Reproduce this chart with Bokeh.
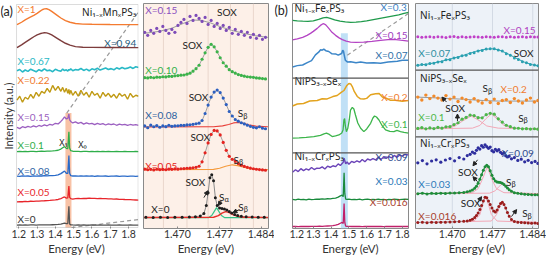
import numpy as np
from bokeh.plotting import figure
from bokeh.layouts import row
from bokeh.models import (Range1d, FixedTicker, NumeralTickFormatter, BoxAnnotation,
                          Span, Arrow, NormalHead)
from bokeh.core.properties import value
from bokeh.embed import file_html
from bokeh.resources import INLINE

FONT = "Lato"
FORMULA_FONT = "Noto Sans"
INK = "#222222"

# ---------------------------------------------------------------- data
# (a) Ni1-xMnxPS3 PL overview (intensity above each trace's baseline, a.u.)
e_mn_broad = [1.19, 1.215, 1.237, 1.26, 1.282, 1.3, 1.315, 1.328, 1.34, 1.352, 1.365,
              1.38, 1.395, 1.41, 1.43, 1.455, 1.48, 1.51, 1.55, 1.6, 1.7, 1.855]
mn_x100 = [0, 2.5, 5.2, 7.5, 9.5, 11.5, 13.5, 15.2, 16.0, 16.2, 15.3, 13.5, 11.5, 9.5,
           6.8, 4.2, 2.5, 1.2, 0.6, 0.4, 0.2, 0.1]
mn_x094 = [0, 2.8, 5.5, 8.3, 11.0, 12.8, 14.0, 14.7, 15.0, 14.9, 14.2, 12.8, 11.2, 9.4,
           7.0, 4.4, 2.5, 1.0, 0.4, 0.2, 0.1, 0.0]

e_mn = [1.19, 1.205, 1.22, 1.235, 1.25, 1.265, 1.28, 1.295, 1.31, 1.325, 1.34, 1.355,
        1.37, 1.385, 1.40, 1.415, 1.43, 1.44, 1.45, 1.46, 1.468, 1.474, 1.478, 1.484,
        1.495, 1.51, 1.525, 1.54, 1.555, 1.57, 1.585, 1.60, 1.615, 1.63, 1.645, 1.66,
        1.675, 1.69, 1.705, 1.72, 1.735, 1.75, 1.765, 1.78, 1.795, 1.81, 1.825, 1.84, 1.855]
mn_x067 = [0.8, 2.1, -0.4, 1.6, 0.2, 2.4, 1.1, -0.2, 1.9, 0.6, 2.7, 0.9, 1.5, -0.1, 2.3,
           1.2, 0.4, 2.6, 1.0, 1.8, 0.5, 2.2, 1.4, 2.9, 0.9, 2.0, 1.6, 3.1, 1.2, 2.5, 0.8,
           2.8, 1.9, 3.4, 1.5, 2.6, 3.6, 2.1, 3.0, 1.8, 3.8, 2.6, 4.1, 2.9, 3.5, 4.6, 3.2,
           4.9, 4.2]
mn_x022 = [1, 5, -1, 4, 2, 7, 3, 9, 5, 10, 8, 13, 9, 16, 11, 15, 10, 14, 9, 13, 8, 12,
           7, 11, 6, 10, 5, 11, 6, 9, 4, 10, 6, 8, 3, 9, 5, 8, 4, 7, 3, 8, 5, 7, 2, 8, 4,
           6, 5]
mn_x015 = [0.5, -0.8, 1.2, 0.3, 1.5, 0.6, 2.0, 0.9, 2.4, 1.6, 3.0, 2.1, 3.6, 2.8, 4.6,
           3.9, 6.5, 8.5, 11.0, 9.0, 9.5, 14.0, 8.0, 6.5, 5.0, 6.0, 4.5, 5.5, 3.8, 5.0,
           4.0, 4.6, 3.2, 4.5, 3.6, 4.2, 2.9, 4.0, 3.3, 3.9, 2.6, 3.7, 3.0, 3.5, 2.4, 3.4,
           2.8, 3.3, 2.6]
mn_x010 = [0.0, 0.2, -0.1, 0.1, 0.0, 0.2, 0.1, 0.0, 0.2, 0.3, 0.2, 0.4, 0.5, 0.6, 0.9,
           1.3, 2.5, 3.8, 5.0, 3.2, 3.0, 20.0, 3.5, 0.8, 0.3, 0.1, 0.2, 0.0, 0.1, 0.2,
           0.0, 0.1, -0.1, 0.1, 0.0, 0.2, 0.0, 0.1, -0.1, 0.0, 0.1, 0.0, -0.1, 0.1, 0.0,
           -0.1, 0.0, 0.1, 0.0]
mn_x008 = [0.1, -0.2, 0.3, 0.0, 0.2, -0.1, 0.3, 0.1, 0.4, 0.2, 0.5, 0.3, 0.6, 0.5, 0.9,
           1.4, 2.6, 3.9, 5.2, 3.0, 2.8, 21.0, 3.0, 0.6, 0.2, 0.4, 0.1, 0.3, 0.0, 0.2,
           0.1, 0.3, -0.1, 0.2, 0.0, 0.1, 0.2, -0.1, 0.1, 0.0, 0.2, -0.1, 0.1, 0.0, -0.2,
           0.1, 0.0, -0.1, 0.0]
mn_x005 = [-1.0, -0.8, -0.9, -0.6, -0.7, -0.4, -0.5, -0.2, -0.3, 0.0, 0.1, 0.3, 0.4, 0.7,
           1.0, 1.4, 2.3, 3.2, 4.0, 2.8, 3.0, 15.0, 3.5, 2.2, 1.8, 2.2, 2.5, 2.3, 2.6,
           2.4, 2.7, 2.5, 2.6, 2.3, 2.5, 2.2, 2.3, 2.0, 2.1, 1.8, 1.9, 1.6, 1.6, 1.4, 1.3,
           1.2, 1.0, 0.9, 0.8]
mn_x000 = [0.0, 0.1, 0.0, 0.1, 0.0, 0.1, 0.1, 0.0, 0.1, 0.2, 0.1, 0.2, 0.2, 0.3, 0.4,
           0.6, 1.0, 1.5, 2.0, 1.4, 1.5, 19.0, 1.0, 0.2, 0.1, 0.0, 0.1, 0.0, 0.1, 0.0,
           0.0, 0.1, 0.0, 0.0, 0.1, 0.0, 0.0, 0.1, 0.0, 0.0, 0.0, 0.1, 0.0, 0.0, 0.0,
           0.1, 0.0, 0.0, 0.0]

# (a) high-resolution SOX region
e_hr = [1.4646, 1.4651, 1.4656, 1.4661, 1.4666, 1.4671, 1.4676, 1.4681, 1.4686, 1.4691,
        1.4696, 1.4701, 1.4706, 1.4711, 1.4716, 1.4721, 1.4726, 1.4731, 1.4736, 1.4741,
        1.4746, 1.4751, 1.4756, 1.4761, 1.4766, 1.4771, 1.4776, 1.4781, 1.4786, 1.4791,
        1.4796, 1.4801, 1.4806, 1.4811, 1.4816, 1.4821, 1.4826, 1.4831, 1.4836, 1.4841,
        1.4846]
hr_x015 = [5, 2, 7, 4, 9, 6, 11, 7, 4, 8, 5, 12, 15, 18, 14, 21, 17, 22, 19, 16, 20, 13,
           17, 11, 14, 9, 12, 7, 10, 4, 8, 3, 6, 2, 5, 0, 3, -1, 2, -2, 0]
hr_x010 = [0.5, 0.2, 0.8, 0.4, 1.0, 0.9, 1.4, 1.2, 1.9, 1.8, 2.4, 2.6, 3.0, 3.2, 4.0, 5.0,
           7.0, 9.5, 13.0, 19.0, 25.5, 31.0, 34.0, 31.5, 26.5, 20.5, 15.5, 12.0, 8.5,
           6.5, 5.0, 3.6, 2.8, 2.0, 1.4, 1.1, 0.8, 0.2, 0.0, -0.4, -0.8]
hr_x008 = [1.0, -0.8, 1.8, 0.2, 1.4, -0.3, 1.0, 0.3, 1.7, 0.6, 1.0, 1.2, 1.6, 1.5, 2.0,
           2.2, 2.6, 3.2, 3.8, 6.5, 13.5, 22.0, 30.0, 35.0, 37.0, 34.5, 29.0, 22.5, 15.5,
           11.0, 7.5, 5.8, 4.2, 3.0, 1.8, 0.6, -0.4, -0.9, 0.2, -1.2, -1.8]
hr_x005 = [0.6, 0.0, 0.4, -0.2, 0.5, 0.1, 0.3, 0.0, 0.6, 0.4, 0.8, 0.6, 1.0, 1.2, 1.5,
           1.6, 2.0, 2.4, 3.5, 8.0, 17.0, 27.0, 35.5, 39.5, 39.0, 35.0, 27.5, 19.5, 13.5,
           10.5, 8.5, 6.2, 4.6, 3.4, 2.4, 1.6, 1.0, 0.5, 0.2, -0.2, -0.5]
e_hr0 = [1.4648, 1.4660, 1.4672, 1.4684, 1.4696, 1.4708, 1.4720, 1.4730, 1.4738, 1.4744,
         1.4748, 1.4751, 1.4754, 1.4757, 1.4760, 1.4763, 1.4766, 1.4770, 1.4774, 1.4778,
         1.4782, 1.4786, 1.4790, 1.4795, 1.4800, 1.4806, 1.4814, 1.4824, 1.4834, 1.4844]
hr_x000 = [0.3, 0.0, 0.4, 0.1, 0.3, 0.2, 0.5, 0.8, 1.5, 4.0, 12.0, 25.0, 40.0, 43.0, 37.0,
           20.0, 12.0, 9.5, 9.0, 8.5, 7.5, 6.0, 4.5, 3.0, 2.0, 1.2, 0.8, 0.5, 0.3, 0.2]
# fitted components
fit_x015_e = [1.4645, 1.467, 1.469, 1.471, 1.4725, 1.474, 1.4755, 1.477, 1.479, 1.481, 1.483, 1.485]
fit_x015 = [4, 6, 9, 14, 17.5, 17, 14.5, 11, 7, 4, 1.5, 0]
sb_x008_e = [1.4645, 1.476, 1.4775, 1.4785, 1.4793, 1.480, 1.4808, 1.4818, 1.483, 1.485]
sb_x008 = [0, 0.2, 1.0, 2.5, 4.0, 4.5, 3.8, 2.2, 0.8, 0.2]
sb_x005_e = [1.4645, 1.476, 1.477, 1.478, 1.4791, 1.480, 1.481, 1.482, 1.4835, 1.485]
sb_x005 = [0, 0.3, 1.5, 3.5, 5, 4.2, 2.5, 1.2, 0.4, 0.2]
sa_x000_e = [1.4645, 1.4752, 1.4757, 1.4761, 1.4765, 1.4769, 1.4773, 1.4778, 1.485]
sa_x000 = [0, 0, 2, 6, 10, 6, 2, 0, 0]
sb_x000_e = [1.4645, 1.476, 1.4768, 1.4774, 1.478, 1.4786, 1.4792, 1.480, 1.481, 1.485]
sb_x000 = [0, 0.3, 2, 4.5, 6, 5, 3, 1.2, 0.3, 0]

# (b) overview: Fe, Se and Cr substitution
fe30_e = [1.183, 1.21, 1.24, 1.27, 1.30, 1.33, 1.355, 1.375, 1.395, 1.42, 1.45, 1.48,
          1.51, 1.54, 1.57, 1.60, 1.63, 1.66, 1.69, 1.72, 1.75, 1.78, 1.81, 1.835]
fe30 = [2, 1.5, 1.2, 1, 1.5, 3, 4.5, 5, 4, 2.5, 1.2, 0.5, 0, 0.2, 0.8, 1.5, 2.5, 3.5,
        4.5, 5.5, 6.5, 7.5, 9, 10]
fe15_e = [1.183, 1.21, 1.24, 1.265, 1.284, 1.30, 1.322, 1.34, 1.35, 1.359, 1.37, 1.387,
          1.405, 1.425, 1.445, 1.463, 1.485, 1.509, 1.54, 1.583, 1.63, 1.678, 1.72,
          1.751, 1.79, 1.835]
fe15 = [2.5, 3.5, 5, 7, 9, 11, 14, 17, 18.2, 18.7, 17.5, 14, 10, 7, 4.5, 2.7, 1.2, 0.3,
        0, 0.3, 1, 2, 2.8, 3, 2.2, 1.3]
fe07_e = [1.183, 1.21, 1.24, 1.266, 1.29, 1.312, 1.33, 1.341, 1.35, 1.359, 1.37, 1.387,
          1.405, 1.425, 1.44, 1.453, 1.46, 1.465, 1.47, 1.474, 1.48, 1.491, 1.51, 1.54,
          1.566, 1.60, 1.64, 1.678, 1.72, 1.772, 1.80, 1.835]
fe07 = [-3.7, -2.4, -1.8, 0.6, 2.6, 8.4, 11.1, 13.6, 13.1, 14.2, 12.6, 11.8, 9.5, 9.4,
        8.1, 9.3, 10.0, 13.0, 12.0, 8.0, 3.0, 1.3, 1.4, 0.4, 1.2, 0.3, 0.5, 0.1, 1.2,
        2.1, 2.9, 3.0]
se20_e = [1.183, 1.21, 1.245, 1.28, 1.322, 1.35, 1.378, 1.41, 1.434, 1.455, 1.472, 1.487,
          1.5, 1.51, 1.519, 1.53, 1.547, 1.565, 1.584, 1.60, 1.622, 1.65, 1.67, 1.688,
          1.71, 1.734, 1.76, 1.80, 1.835]
se20 = [-6, -4.0, -3.4, -1.0, -0.4, 1.4, 1.2, 3.5, 4.6, 7.4, 9.6, 14.3, 16.7, 16.2, 13.6,
        8.7, 3.6, 1.2, 1.0, 1.7, 5.3, 6.4, 6.5, 3.0, 1.8, -0.3, -0.2, -1.1, -0.5]
se10_e = [1.183, 1.22, 1.26, 1.303, 1.34, 1.36, 1.374, 1.39, 1.406, 1.425, 1.444, 1.46,
          1.467, 1.472, 1.476, 1.48, 1.486, 1.494, 1.502, 1.509, 1.519, 1.528, 1.537, 1.55,
          1.566, 1.584, 1.60, 1.622, 1.635, 1.644, 1.655, 1.669, 1.688, 1.706, 1.73,
          1.753, 1.77, 1.79, 1.81, 1.835]
se10 = [-5.3, -5, -4.5, -3.7, -2.5, -1, -0.3, -1.5, -3.7, -3, -2, 0, 3, 13, 14.5, 7, 1.3,
        4.7, 13, 23, 25.7, 24, 18, 10, 4.7, 1.3, 4, 9.7, 15, 17, 16, 13, 7, 3, 1.5, 1.3,
        2.5, 1.3, 0.5, -0.3]
e_cr = [1.183, 1.20, 1.215, 1.23, 1.245, 1.26, 1.275, 1.29, 1.305, 1.32, 1.335, 1.35,
        1.365, 1.38, 1.395, 1.41, 1.425, 1.44, 1.452, 1.462, 1.468, 1.473, 1.477, 1.482,
        1.49, 1.50, 1.515, 1.53, 1.545, 1.56, 1.575, 1.59, 1.605, 1.62, 1.635, 1.65,
        1.665, 1.68, 1.695, 1.71, 1.725, 1.74, 1.755, 1.77, 1.785, 1.80, 1.815, 1.835]
cr09 = [-2.5, 0.0, -1.8, 1.1, -0.9, 0.8, -0.3, 2.3, 0.2, 1.6, 1.4, 2.9, 0.8, 3.6, 2.5,
        4.0, 3.1, 5.9, 4.3, 6.2, 7.5, 11.5, 9.0, 6.0, 7.8, 5.6, 8.4, 7.3, 9.0, 7.6, 10.4,
        8.1, 10.8, 9.6, 11.2, 9.9, 12.5, 10.4, 12.9, 11.6, 13.3, 12.0, 14.4, 12.5, 14.7,
        13.6, 15.4, 14.8]
cr03 = [0.2, -0.3, 0.4, 0.0, 0.3, -0.2, 0.5, 0.1, 0.3, 0.6, 0.4, 0.7, 0.5, 0.9, 0.8, 1.2,
        1.6, 2.5, 3.8, 4.5, 3.0, 27.0, 6.0, 0.5, 0.2, 0.4, -0.1, 0.3, 0.0, 0.4, -0.2, 0.2,
        0.5, 0.0, 0.3, -0.1, 0.4, 0.1, 0.2, -0.2, 0.3, 0.0, 0.4, 0.2, -0.1, 0.3, 0.5, 0.2]
cr016 = [0.0, 0.1, -0.1, 0.1, 0.0, 0.2, 0.0, 0.1, 0.2, 0.1, 0.3, 0.2, 0.4, 0.5, 0.6, 0.9,
         1.3, 2.2, 3.3, 4.2, 3.0, 23.0, 4.0, 0.4, 0.1, 0.2, 0.0, 0.1, 0.0, 0.1, -0.1, 0.1,
         0.0, 0.1, 0.0, 0.0, 0.1, 0.0, -0.1, 0.1, 0.0, 0.1, 0.0, 0.0, 0.1, 0.0, 0.1, 0.0]

# (b) high-resolution SOX region
e_hb = [1.4640, 1.4647, 1.4654, 1.4661, 1.4668, 1.4675, 1.4682, 1.4689, 1.4696, 1.4703,
        1.4710, 1.4717, 1.4724, 1.4731, 1.4738, 1.4745, 1.4752, 1.4759, 1.4766, 1.4773,
        1.4780, 1.4787, 1.4794, 1.4801, 1.4808, 1.4815, 1.4822, 1.4829, 1.4836, 1.4843,
        1.4849]
hb_fe15 = [0.2, -0.3, 0.1, 0.4, -0.2, 0.3, 0, -0.4, 0.2, 0.5, -0.1, 0.3, -0.3, 0.1, 0.4,
           0, -0.2, 0.3, 0.1, -0.3, 0.2, 0.4, -0.1, 0.2, -0.3, 0.1, 0.3, -0.2, 0.2, 0, 0.1]
hb_fe07 = [1.0, 1.8, 1.6, 2.8, 3.0, 4.2, 4.6, 6.4, 6.6, 8.3, 8.8, 10.4, 11.0, 12.9, 13.6,
           15.4, 15.9, 17.3, 17.6, 17.5, 16.2, 15.3, 12.5, 10.9, 8.2, 6.8, 4.4, 3.5, 1.8,
           1.2, 0.4]
hb_se20 = [4, 1, 6, 2.5, 5, 3, 1, 5.5, 2, 4, -0.5, 3, 1.5, -1, 2.5, 0, -2, 1.5, -1.5, 2,
           -2.5, 0.5, 1.5, -1.5, 2.5, 0, -2, 1, 3, -1, 0.5]
hb_se10 = [0.5, 1.3, 0.1, 1.0, 0.4, 1.5, 0.8, 2.1, 2.3, 4.4, 6.2, 9.8, 11.6, 13.9, 13.4,
           11.3, 11.2, 14.3, 15.7, 14.8, 10.2, 6.9, 3.7, 2.3, 0.8, 0.7, 0.1, 0.3, -0.1,
           0.2, -0.2]
e_hbc = [1.4640, 1.4648, 1.4656, 1.4664, 1.4672, 1.4680, 1.4688, 1.4696, 1.4704, 1.4712,
         1.4720, 1.4726, 1.4731, 1.4735, 1.4739, 1.4742, 1.4745, 1.4748, 1.4751, 1.4754,
         1.4757, 1.4760, 1.4763, 1.4766, 1.4769, 1.4772, 1.4775, 1.4778, 1.4781, 1.4784,
         1.4787, 1.4790, 1.4793, 1.4796, 1.4799, 1.4803, 1.4808, 1.4814, 1.4820, 1.4826,
         1.4832, 1.4838, 1.4844, 1.4849]
hb_cr09 = [0, 2.2, -1.0, 1.8, 3.0, 0.6, 2.8, 4.2, 2.0, 5.2, 3.8, 7.2, 8.5, 10.8, 9.6, 12.5,
           15.0, 13.8, 17.2, 15.6, 18.0, 16.2, 14.5, 15.8, 12.2, 11.0, 13.5, 12.0, 13.2,
           10.5, 9.0, 10.2, 7.0, 5.8, 6.6, 4.0, 5.2, 2.4, 3.6, 1.0, 2.5, 0.2, 1.4, -0.6]
hb_cr03 = [0.0, 0.5, -0.3, 0.3, 0.1, 0.5, 0.2, 0.6, 0.6, 0.9, 1.2, 1.8, 2.6, 3.6, 5.5, 7.5,
           10.5, 14.5, 19.0, 23.5, 27.0, 28.5, 27.0, 23.0, 18.5, 15.0, 12.8, 11.8, 11.5,
           11.2, 10.5, 9.2, 7.5, 5.8, 4.0, 2.4, 1.0, 0.3, -0.2, -0.6, -0.8, -1.0, -1.1, -1.2]
hb_cr016 = [0.0, 0.3, -0.2, 0.2, 0.1, 0.4, 0.3, 0.6, 0.7, 1.0, 1.2, 1.6, 2.2, 3.2, 5.0, 7.0,
            9.5, 13.0, 17.0, 21.5, 25.5, 25.0, 21.5, 18.0, 14.5, 11.5, 10.5, 12.5, 16.0,
            19.0, 20.3, 18.0, 14.7, 10.0, 6.3, 3.0, 1.0, 0.3, 0.0, -0.3, -0.5, -0.8, -0.6, -1.0]
# fitted curves
fit_fe07_e = [1.4638, 1.466, 1.468, 1.470, 1.472, 1.474, 1.4755, 1.4768, 1.478, 1.4795,
              1.481, 1.4825, 1.484, 1.485]
fit_fe07 = [0.8, 2.4, 4.8, 7.8, 11, 14.8, 16.8, 17.6, 16.6, 13, 8.4, 4.2, 1.4, 0.5]
fit_se20_e = [1.4638, 1.468, 1.472, 1.4755, 1.478, 1.485]
fit_se20 = [4, 3, 1.8, 0.5, 0, 0]
sox_se10_e = [1.4636, 1.469, 1.4705, 1.4718, 1.4733, 1.4748, 1.476, 1.478, 1.485]
sox_se10 = [0, 0.8, 3, 8, 13, 8, 3, 0.8, 0]
sb_se10_e = [1.4636, 1.4735, 1.4748, 1.4758, 1.4768, 1.4778, 1.479, 1.4805, 1.485]
sb_se10 = [0, 0.8, 3.5, 10, 15, 10, 3.5, 0.8, 0]
sox_cr03_e = [1.4636, 1.4735, 1.4745, 1.4752, 1.4761, 1.4769, 1.4777, 1.479, 1.485]
sox_cr03 = [0, 1, 5, 14, 27, 14, 5, 1, 0]
sb_cr03_e = [1.4636, 1.4765, 1.4775, 1.4781, 1.4787, 1.4793, 1.480, 1.481, 1.485]
sb_cr03 = [0, 0.5, 3, 7, 10, 7, 3, 0.5, 0]
sox_cr016_e = [1.4636, 1.4738, 1.4748, 1.4753, 1.4758, 1.4763, 1.4768, 1.4778, 1.485]
sox_cr016 = [0, 1.5, 8, 18, 26, 18, 8, 1.5, 0]
sb_cr016_e = [1.4636, 1.4768, 1.4777, 1.4782, 1.4787, 1.4792, 1.4797, 1.4807, 1.485]
sb_cr016 = [0, 1.5, 8, 15, 20, 15, 8, 1.5, 0]

# tick positions
ticks_wide = [1.2, 1.3, 1.4, 1.5, 1.6, 1.7, 1.8]
ticks_zoom = [1.470, 1.477, 1.484]

# ---------------------------------------------------------------- helpers
Y_TOP = 226
EDGE = "#8a8a8a"


def panel(width, xr, left, right, ticks, fmt, yr=(0, Y_TOP), xlabel="Energy (eV)"):
    p = figure(width=width, height=257, x_range=Range1d(*xr), y_range=Range1d(*yr),
               output_backend="svg", toolbar_location=None, y_axis_location=None,
               min_border_left=left, min_border_right=right,
               min_border_top=3, min_border_bottom=28)
    p.grid.visible = False
    p.outline_line_color = EDGE
    p.outline_line_width = 1
    ax = p.xaxis[0]
    ax.ticker = FixedTicker(ticks=ticks)
    ax.formatter = NumeralTickFormatter(format=fmt)
    ax.axis_line_color = None
    ax.major_tick_in = 2
    ax.major_tick_out = 0
    ax.major_tick_line_color = EDGE
    ax.minor_tick_line_color = None
    ax.major_label_standoff = 1
    ax.major_label_text_font = FONT
    ax.major_label_text_font_size = "10.5px"
    ax.major_label_text_color = "#333333"
    ax.axis_label = xlabel
    ax.axis_label_standoff = 1
    ax.axis_label_text_font = FONT
    ax.axis_label_text_font_size = "11.5px"
    ax.axis_label_text_font_style = "normal"
    ax.axis_label_text_color = "#333333"
    return p


def trace(p, e, h, off, color, width=1.2):
    p.line(e, np.asarray(h, dtype=float) + off, line_color=color, line_width=width)


def dots(p, e, h, off, color, size=3.0):
    p.scatter(e, np.asarray(h, dtype=float) + off, size=size, marker="circle",
              fill_color=color, line_color=None)


def txt(p, x, y, s, color=INK, size="10px", align="left", font=FONT,
        baseline="middle", angle=0.0):
    p.text(x=[x], y=[y], text=[s], text_color=color, text_font=value(font),
           text_font_size=value(size), text_align=align, text_baseline=baseline,
           angle=angle)


def s_label(p, x, y, sub):
    txt(p, x, y, "S", INK, align="right")
    txt(p, x, y - 3, sub, INK, size="7.5px", align="left")


def arrow(p, x0, y0, x1, y1):
    p.add_layout(Arrow(end=NormalHead(size=4, fill_color=INK, line_color=INK, line_width=1),
                       x_start=x0, y_start=y0, x_end=x1, y_end=y1,
                       line_color=INK, line_width=1))


def vlines(p, xs, color):
    for x in xs:
        p.add_layout(Span(location=x, dimension="height", line_color=color,
                          line_width=1, level="underlay"))


def hsep(p, y):
    p.add_layout(Span(location=y, dimension="width", line_color="#555555", line_width=1.2))


# ---------------------------------------------------------------- (a) overview
# the plotting area starts at the canvas edge so the panel tag and the
# intensity caption can sit to the left of the boxed spectrum area
A_BOX = (1.1875, 1.853)
A_RANGE = (1.0998, 1.8548)
a1 = panel(140, A_RANGE, 0, 2, ticks_wide, "0.0", yr=(-1, Y_TOP + 1),
           xlabel="\u2003\u2002Energy (eV)")
a1.outline_line_color = None
a1.add_layout(BoxAnnotation(left=A_BOX[0], right=A_BOX[1], bottom=0, top=Y_TOP,
                            fill_alpha=0, line_color=EDGE, line_width=1))
a1.add_layout(BoxAnnotation(left=1.455, right=1.488, bottom=0, top=116,
                            fill_color="#f6ad88", fill_alpha=0.75, line_color=None,
                            level="underlay"))
# zoom guides towards the high-resolution panel
a1.line([1.462, A_BOX[1]], [116, 218], line_color="#9a9a9a", line_dash="4 3", line_width=1.2)
a1.line([1.488, A_BOX[1]], [0, 8], line_color="#9a9a9a", line_dash="4 3", line_width=1.2)

trace(a1, e_mn_broad, mn_x100, 205.5, "#f47b30", 1.4)
trace(a1, e_mn_broad, mn_x094, 182.3, "#7d3c3c", 1.4)
trace(a1, e_mn, mn_x067, 158, "#29b9c6", 1.6)
trace(a1, e_mn, mn_x022, 128, "#c09a14", 1.4)
trace(a1, e_mn, mn_x015, 101, "#9b5fc0", 1.3)
trace(a1, e_mn, mn_x010, 77, "#2fae4a", 1.3)
trace(a1, e_mn, mn_x008, 52, "#2a6bc9", 1.3)
trace(a1, e_mn, mn_x005, 27, "#e8252b", 1.3)
trace(a1, e_mn, mn_x000, 2.5, "#555555", 1.3)

txt(a1, A_RANGE[0], Y_TOP + 1, "(a)", INK, size="12.5px", baseline="top")
txt(a1, 1.1436, 113, "Intensity (a.u.)", "#333333", size="11px", align="center",
    angle=np.pi / 2)
txt(a1, 1.193, 221, "X=1", "#f47b30")
txt(a1, 1.843, 218, "Ni\u2081\u208b\u2093Mn\u2093PS\u2083", INK, align="right", font=FORMULA_FONT)
txt(a1, 1.843, 187, "X=0.94", "#1e5b7b", align="right")
txt(a1, 1.193, 169, "X=0.67", "#29b9c6")
txt(a1, 1.193, 149, "X=0.22", "#f07a2e")
txt(a1, 1.193, 112, "X=0.15", "#9b5fc0")
txt(a1, 1.193, 84, "X=0.1", "#2fae4a")
txt(a1, 1.193, 57, "X=0.08", "#2f64a5")
txt(a1, 1.193, 36, "X=0.05", "#e8252b")
txt(a1, 1.193, 9, "X=0", "#333333")
txt(a1, 1.444, 86, "X\u2081", INK, size="9px", align="center", font=FORMULA_FONT)
txt(a1, 1.548, 84, "X\u2080", INK, size="9px", align="center", font=FORMULA_FONT)

# ---------------------------------------------------------------- (a) SOX region
AZ_RANGE = (1.4644, 1.4851)
a2 = panel(134, AZ_RANGE, 3, 6, ticks_zoom, "0.000")
a2.background_fill_color = "#fdf0e8"
vlines(a2, [1.4677, 1.4716, 1.4751, 1.4788, 1.4826], "#ead6cc")

a2.line(fit_x015_e, np.asarray(fit_x015) + 192, line_color="#9a9a9a", line_width=1)
dots(a2, e_hr, hr_x015, 192, "#7e4cb8", 3.2)

trace(a2, e_hr, hr_x010, 151, "#a0a0a0", 1)
dots(a2, e_hr, hr_x010, 151, "#3cb34a", 3.2)

trace(a2, sb_x008_e, sb_x008, 102, "#e8403a", 1.2)
trace(a2, e_hr, hr_x008, 102, "#a0a0a0", 1)
dots(a2, e_hr, hr_x008, 102, "#2c5fc0", 3.2)

trace(a2, sb_x005_e, sb_x005, 59, "#f59a3c", 1.2)
trace(a2, e_hr, hr_x005, 59, "#a0a0a0", 1)
dots(a2, e_hr, hr_x005, 59, "#e52420", 3.2)

trace(a2, e_hr0, hr_x000, 11, "#8a8a8a", 1)
trace(a2, sa_x000_e, sa_x000, 11, "#35c48a", 1.2)
trace(a2, sb_x000_e, sb_x000, 11, "#e8302a", 1.4)
dots(a2, e_hr0, hr_x000, 11, "#1e1e1e", 3.0)

txt(a2, 1.4647, 219, "X=0.15", "#8a4fc0")
txt(a2, 1.4782, 217, "SOX", INK, align="center")
txt(a2, 1.4725, 184, "SOX", INK, align="center")
txt(a2, 1.4647, 159, "X=0.10", "#33b04a")
txt(a2, 1.4735, 132, "SOX", INK, align="center")
txt(a2, 1.4647, 114, "X=0.08", "#2b5fa0")
s_label(a2, 1.4809, 116, "\u03b2")
txt(a2, 1.4738, 92, "SOX", INK, align="center")
txt(a2, 1.4647, 63, "X=0.05", "#e52420")
s_label(a2, 1.4802, 69, "\u03b2")
txt(a2, 1.4730, 47, "SOX", INK, align="center")
s_label(a2, 1.4778, 32, "\u03b1")
s_label(a2, 1.4810, 22, "\u03b2")
txt(a2, 1.4657, 20, "X=0", INK)
arrow(a2, 1.4744, 31, 1.4751, 38)
arrow(a2, 1.4773, 28, 1.4768, 23)
arrow(a2, 1.4803, 19, 1.4792, 16)

# ---------------------------------------------------------------- panel tag (b)
tag_b = figure(width=15, height=257, x_range=Range1d(0, 15), y_range=Range1d(0, Y_TOP),
               output_backend="svg", toolbar_location=None,
               x_axis_location=None, y_axis_location=None,
               min_border_left=0, min_border_right=0, min_border_top=3, min_border_bottom=28)
tag_b.grid.visible = False
tag_b.outline_line_color = None
txt(tag_b, 0, Y_TOP + 1, "(b)", INK, size="12.5px", baseline="top")

# ---------------------------------------------------------------- (b) overview
B_RANGE = (1.183, 1.835)
b1 = panel(122, B_RANGE, 3, 3, ticks_wide, "0.0")
b1.add_layout(BoxAnnotation(left=1.455, right=1.494, bottom=0, top=196,
                            fill_color="#b9ddf5", fill_alpha=0.9, line_color=None,
                            level="underlay"))
b1.line([1.491, B_RANGE[1]], [174, 216], line_color="#9a9a9a", line_dash="4 3", line_width=1.2)
hsep(b1, 151)
hsep(b1, 76)

trace(b1, fe30_e, fe30, 207, "#1f9a4b", 1.3)
trace(b1, fe15_e, fe15, 187, "#b444c4", 1.3)
trace(b1, fe07_e, fe07, 166, "#3c86c8", 1.5)
trace(b1, se20_e, se20, 129, "#e3a31e", 1.5)
trace(b1, se10_e, se10, 96, "#3cb54b", 1.3)
trace(b1, e_cr, cr09, 59, "#6b44b8", 1.4)
trace(b1, e_cr, cr03, 29, "#198a3c", 1.3)
trace(b1, e_cr, cr016, 2, "#c0206a", 1.3)

txt(b1, 1.194, 221, "Ni\u2081\u208b\u2093Fe\u2093PS\u2083", INK, font=FORMULA_FONT)
txt(b1, 1.825, 222, "X=0.3", "#3b7fc4", align="right")
txt(b1, 1.830, 194, "X=0.15", "#a040c0", align="right")
txt(b1, 1.830, 174, "X=0.07", "#2f6fa8", align="right")
txt(b1, 1.194, 148, "NiPS\u2083\u208b\u2093Se\u2093", INK, font=FORMULA_FONT)
txt(b1, 1.830, 132.5, "X=0.2", "#f07a2e", align="right")
txt(b1, 1.830, 105, "X=0.1", "#3cb54b", align="right")
txt(b1, 1.194, 73, "Ni\u2081\u208b\u2093Cr\u2093PS\u2083", INK, font=FORMULA_FONT)
txt(b1, 1.830, 72, "X=0.09", "#2d4a8c", align="right")
txt(b1, 1.830, 48, "X=0.03", "#2a78b8", align="right")
txt(b1, 1.830, 27, "X=0.016", "#a8402c", align="right")

# ---------------------------------------------------------------- (b) SOX region
BZ_RANGE = (1.4636, 1.485)
b2 = panel(135, BZ_RANGE, 4, 8, ticks_zoom, "0.000")
b2.background_fill_color = "#edf2f8"
vlines(b2, ticks_zoom, "#d3dae4")
hsep(b2, 159)
hsep(b2, 92)

dots(b2, e_hb, hb_fe15, 192.3, "#c040c8", 3.0)
trace(b2, fit_fe07_e, fit_fe07, 163, "#2aa0b0", 1)
dots(b2, e_hb, hb_fe07, 163, "#2aa0b0", 3.0)

trace(b2, fit_se20_e, fit_se20, 128, "#9a9a9a", 1)
dots(b2, e_hb, hb_se20, 128, "#f28a2a", 3.4)
trace(b2, sox_se10_e, sox_se10, 100, "#f2a7b6", 1)
trace(b2, sb_se10_e, sb_se10, 100, "#f2a7b6", 1)
trace(b2, e_hb, hb_se10, 100, "#9a9a9a", 1)
dots(b2, e_hb, hb_se10, 100, "#4cb848", 3.2)

dots(b2, e_hbc, hb_cr09, 66, "#2e2e9e", 3.2)
trace(b2, sox_cr03_e, sox_cr03, 35, "#f2a7b6", 1)
trace(b2, sb_cr03_e, sb_cr03, 35, "#f2a7b6", 1)
trace(b2, e_hbc, hb_cr03, 35, "#1f8c3a", 1.2)
dots(b2, e_hbc, hb_cr03, 35, "#1f8c3a", 3.0)
trace(b2, sox_cr016_e, sox_cr016, 6, "#f2a7b6", 1)
trace(b2, sb_cr016_e, sb_cr016, 6, "#f2a7b6", 1)
trace(b2, e_hbc, hb_cr016, 6, "#9a9a9a", 1)
dots(b2, e_hbc, hb_cr016, 6, "#9b1c1c", 3.0)

txt(b2, 1.4644, 214, "Ni\u2081\u208b\u2093Fe\u2093PS\u2083", INK, font=FORMULA_FONT)
txt(b2, 1.4845, 199, "X=0.15", "#b040c0", align="right")
txt(b2, 1.4641, 176, "X=0.07", "#2b8ea0")
txt(b2, 1.4824, 176, "SOX", INK, align="center")
txt(b2, 1.4644, 151, "NiPS\u2083\u208b\u2093Se\u2093", INK, font=FORMULA_FONT)
s_label(b2, 1.4762, 141, "\u03b2")
txt(b2, 1.4784, 140, "X=0.2", "#f07a2e")
txt(b2, 1.4705, 121.5, "SOX", INK, align="center")
arrow(b2, 1.4690, 127, 1.4682, 132)
arrow(b2, 1.4709, 108, 1.4709, 115)
txt(b2, 1.4641, 112, "X=0.1", "#4cb848")
s_label(b2, 1.4824, 111, "\u03b2")
txt(b2, 1.4644, 86, "Ni\u2081\u208b\u2093Cr\u2093PS\u2083", INK, font=FORMULA_FONT)
txt(b2, 1.4842, 76, "X=0.09", "#2d4a8c", align="right")
txt(b2, 1.4727, 56.5, "SOX", INK, align="center")
arrow(b2, 1.4744, 69, 1.4736, 63)
arrow(b2, 1.4744, 47, 1.4736, 52)
txt(b2, 1.4641, 45, "X=0.03", "#2a78b8")
s_label(b2, 1.4803, 47, "\u03b2")
txt(b2, 1.4732, 25.5, "SOX", INK, align="center")
arrow(b2, 1.4744, 26, 1.4751, 32)
s_label(b2, 1.4831, 15.5, "\u03b2")
arrow(b2, 1.4803, 12, 1.4812, 19)
txt(b2, 1.4641, 13, "X=0.016", "#a8402c")

layout = row(a1, a2, tag_b, b1, b2)
open("out.html", "w").write(file_html(layout, INLINE))
